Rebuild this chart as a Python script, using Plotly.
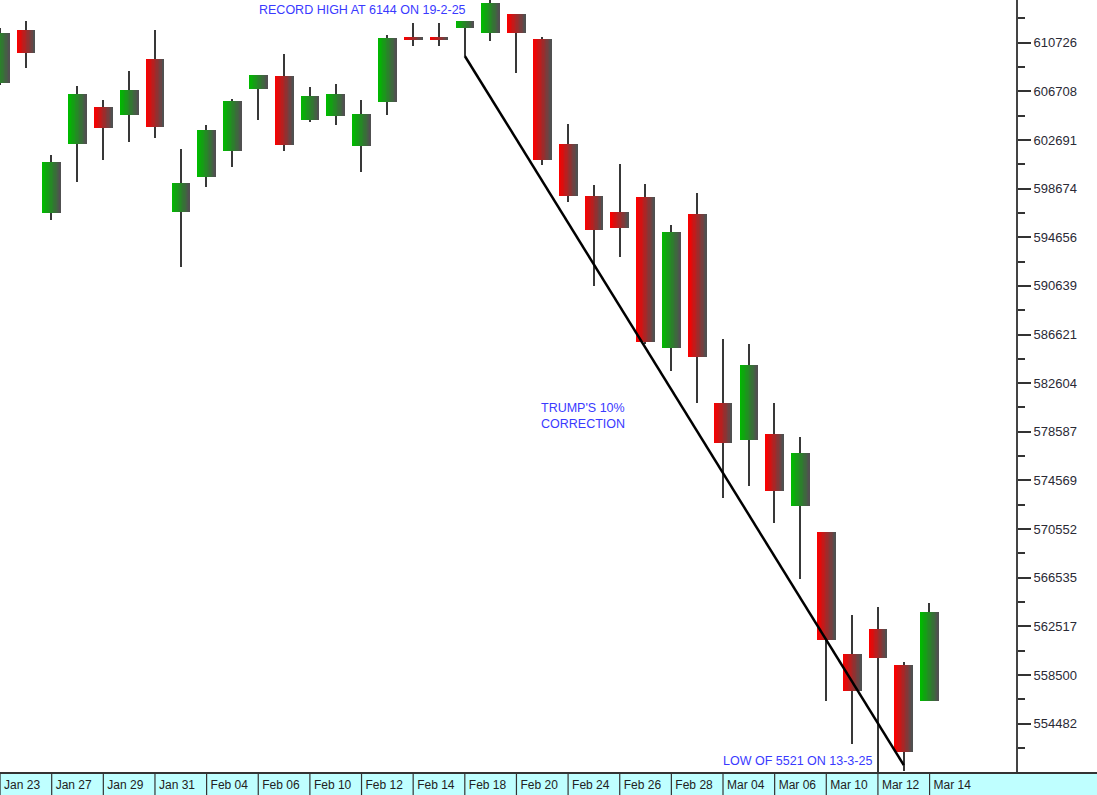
import plotly.graph_objects as go

# ---------------- data ----------------
dates = ["2025-01-23", "2025-01-24", "2025-01-27", "2025-01-28", "2025-01-29", "2025-01-30",
         "2025-01-31", "2025-02-03", "2025-02-04", "2025-02-05", "2025-02-06", "2025-02-07",
         "2025-02-10", "2025-02-11", "2025-02-12", "2025-02-13", "2025-02-14", "2025-02-17",
         "2025-02-18", "2025-02-19", "2025-02-20", "2025-02-21", "2025-02-24", "2025-02-25",
         "2025-02-26", "2025-02-27", "2025-02-28", "2025-03-03", "2025-03-04", "2025-03-05",
         "2025-03-06", "2025-03-07", "2025-03-10", "2025-03-11", "2025-03-12", "2025-03-13",
         "2025-03-14"]
opens = [607400, 611750, 596630, 602380, 605440, 604750, 609380, 596720, 599610, 601780,
         606930, 607950, 604340, 604670, 602190, 605800, 611100, 611100, 611920, 611500,
         613100, 611030, 602360, 598060, 596770, 597940, 585480, 596580, 580990, 577910,
         578410, 572460, 570340, 560230, 562300, 559300, 556380]
highs = [611900, 612490, 601450, 607150, 605990, 608390, 611780, 601950, 603930, 606050,
         608030, 609790, 607040, 607340, 605990, 611360, 612380, 612380, 612540, 614500,
         613100, 611170, 604010, 598970, 600710, 599060, 595640, 598340, 586250, 585840,
         580990, 578130, 570340, 563450, 564090, 559600, 564450]
lows = [607200, 608610, 596080, 599200, 601040, 602500, 602830, 592170, 598780, 600460,
        604340, 601780, 604200, 603930, 600020, 604750, 610450, 610450, 609630, 610870,
        608200, 600620, 597540, 590630, 593000, 585840, 583630, 580940, 573090, 574130,
        571030, 566450, 556380, 552770, 550510, 550570, 556380]
closes = [611530, 609850, 600900, 606490, 603660, 606820, 603740, 599160, 603520, 605890,
          608030, 602280, 606300, 606490, 604840, 611140, 611100, 611100, 612540, 614030,
          611500, 601040, 598060, 595260, 595380, 585980, 595120, 584740, 577640, 584080,
          573700, 576860, 561390, 557180, 559880, 552140, 563730]

label_dates = dates[0::2]
label_text = ["Jan 23", "Jan 27", "Jan 29", "Jan 31", "Feb 04", "Feb 06", "Feb 10", "Feb 12",
              "Feb 14", "Feb 18", "Feb 20", "Feb 24", "Feb 26", "Feb 28", "Mar 04", "Mar 06",
              "Mar 10", "Mar 12", "Mar 14"]

y_ticks = [554482, 558500, 562517, 566535, 570552, 574569, 578587, 582604, 586621, 590639,
           594656, 598674, 602691, 606708, 610726]

trend_dates = ["2025-02-18", "2025-03-13"]
trend_values = [609630, 551060]

# ---------------- figure ----------------
W, H = 1097, 795
ML, MR, MT, MB = 0, 81, 0, 22
PW, PH = W - ML - MR, H - MT - MB
SLOT = 25.82  # px per trading slot

fig = go.Figure()

# wicks (as thin bars so they stay beneath the bodies)
WW = 1.4 / SLOT
fig.add_trace(go.Bar(x=dates, y=[h - l for h, l in zip(highs, lows)], base=lows,
                     width=WW, offset=-WW / 2,
                     marker=dict(color="#383838", line=dict(width=0)),
                     hoverinfo="skip", showlegend=False))

# bodies as gradient strips
N = 14
BW = 0.72
MIN_H = 260
up = [c > o for o, c in zip(opens, closes)]
heights, bases = [], []
for o, c in zip(opens, closes):
    h = abs(c - o)
    hh = max(h, MIN_H)
    heights.append(hh)
    bases.append(min(o, c) - (hh - h) / 2)

UP_C = (0, 185, 0)
DN_C = (250, 0, 0)
END_C = (80, 80, 80)


def mix(a, b, t):
    return "rgb(%d,%d,%d)" % tuple(round(a[i] + (b[i] - a[i]) * t) for i in range(3))


sw = BW / N
for i in range(N):
    t = i / (N - 1)
    cols = [mix(UP_C if u else DN_C, END_C, t) for u in up]
    w = sw * 1.6 if i < N - 1 else sw
    fig.add_trace(go.Bar(x=dates, y=heights, base=bases, width=w, offset=-BW / 2 + i * sw,
                         marker=dict(color=cols, line=dict(width=0)),
                         hoverinfo="skip", showlegend=False))

# trend line
fig.add_trace(go.Scatter(x=trend_dates, y=trend_values, mode="lines",
                         line=dict(color="black", width=2.5), hoverinfo="skip",
                         showlegend=False))

# bottom band and separators
shapes = [
    dict(type="rect", xref="paper", yref="paper", x0=0, x1=W / PW, y0=-MB / PH, y1=0,
         fillcolor="#bfffff", line=dict(width=0), layer="below"),
    dict(type="line", xref="paper", yref="paper", x0=0, x1=W / PW, y0=0, y1=0,
         line=dict(color="#333333", width=2)),
]
for d in label_dates:
    shapes.append(dict(type="line", xref="x", yref="paper", x0=d, x1=d, y0=0, y1=-MB / PH,
                       line=dict(color="#333333", width=1.2)))

minor_vals = [(a + b) / 2 for a, b in zip(y_ticks[:-1], y_ticks[1:])]
minor_vals = [y_ticks[0] - (y_ticks[1] - y_ticks[0]) / 2] + minor_vals + \
             [y_ticks[-1] + (y_ticks[1] - y_ticks[0]) / 2]

FONT = "Liberation Sans, Arial, sans-serif"
ann_color = "#3a3aff"
annotations = [
    dict(text="RECORD HIGH AT 6144 ON 19-2-25", xref="paper", yref="paper",
         x=257 / PW, y=1 - 10 / PH, xanchor="left", yanchor="middle", showarrow=False,
         font=dict(family=FONT, size=12.5, color=ann_color)),
    dict(text="TRUMP'S 10%<br>CORRECTION", xref="paper", yref="paper",
         x=539 / PW, y=1 - 416.5 / PH, xanchor="left", yanchor="middle", align="left",
         showarrow=False, font=dict(family=FONT, size=12.5, color=ann_color)),
    dict(text="LOW OF 5521 ON 13-3-25", xref="paper", yref="paper",
         x=721 / PW, y=1 - 761 / PH, xanchor="left", yanchor="middle", showarrow=False,
         font=dict(family=FONT, size=12.5, color=ann_color)),
]

fig.update_layout(
    width=W, height=H,
    margin=dict(l=ML, r=MR, t=MT, b=MB, pad=0),
    paper_bgcolor="white", plot_bgcolor="white",
    barmode="overlay", bargap=0,
    showlegend=False,
    shapes=shapes,
    annotations=annotations,
    xaxis=dict(type="category", categoryorder="array", categoryarray=dates,
               range=[-0.002, -0.002 + PW / SLOT],
               tickmode="array", tickvals=label_dates, ticktext=label_text,
               ticks="", ticklabelposition="outside right", ticklabelshift=4,
               ticklabelstandoff=3,
               tickfont=dict(family=FONT, size=12, color="#222222"),
               showgrid=False, zeroline=False, showline=False, automargin=False,
               fixedrange=True),
    yaxis=dict(side="right", range=[550403, 614253],
               tickmode="array", tickvals=y_ticks, ticktext=[str(v) for v in y_ticks],
               ticks="outside", ticklen=13, tickwidth=1.5, tickcolor="#333333",
               minor=dict(tickmode="array", tickvals=minor_vals, ticks="outside",
                          ticklen=7, tickwidth=1.5, tickcolor="#333333"),
               tickfont=dict(family=FONT, size=13, color="#2a2a35"),
               showline=True, linecolor="#444444", linewidth=2,
               showgrid=False, zeroline=False, automargin=False, fixedrange=True),
)

fig.write_html("out.html", config={"displayModeBar": False},
               post_script="document.body.style.margin='0';document.body.style.overflow='hidden';")
